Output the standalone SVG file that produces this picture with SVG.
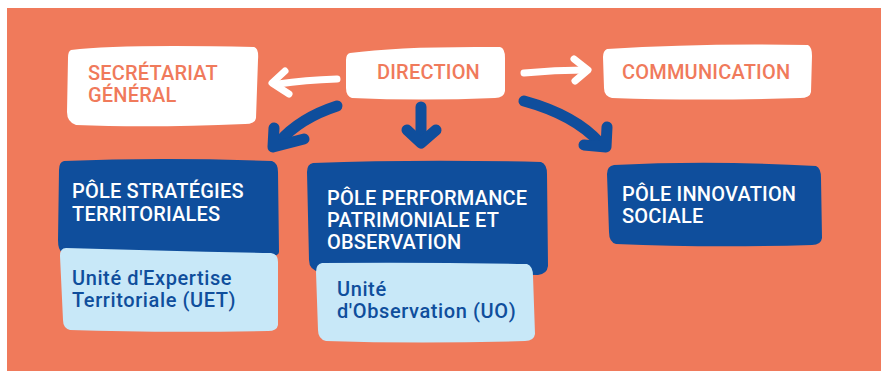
<svg xmlns="http://www.w3.org/2000/svg" width="881" height="371" viewBox="0 0 881 371">
<style>
.t{font-family:Roboto,"Liberation Sans",sans-serif;font-weight:500;font-size:20px}
.o{fill:#F07A5B;letter-spacing:0.2px}
.w{fill:#FFFFFF}
.tw{letter-spacing:0.2px}
.db{fill:#0F4E9C}
.lb{fill:#C8E8F8}
.bt{fill:#0F4E9C;letter-spacing:0.6px}
.wa{fill:none;stroke:#FFFFFF;stroke-width:7;stroke-linecap:round;stroke-linejoin:round}
.ba{fill:none;stroke:#0F4E9C;stroke-width:11;stroke-linecap:round;stroke-linejoin:round}
</style>
<rect x="7" y="8" width="874" height="363" fill="#F07A5B"/>
<g id="connectors">
<path class="wa" d="M337,79 Q305,80 278,84"/>
<path class="wa" d="M285,71 L272,83 L289,94"/>
<path class="wa" d="M524,73 Q555,70 585,70"/>
<path class="wa" d="M574,59 L588,70 L575,81"/>
<path class="ba" d="M337,106 Q300,118 279,142"/>
<path class="ba" d="M274,128 L273,147 L304,139"/>
<path class="ba" d="M421,107 L421,140"/>
<path class="ba" d="M407,130 L421,143 L436,130"/>
<path class="ba" d="M524,101 Q575,115 600,143"/>
<path class="ba" d="M607,127 L606,147 L584,145"/>
</g>
<g id="secretariat">
<path class="w" d="M71,50 Q120,44 254,47 Q259,48 258,60 L256,118 Q255,124 245,124 Q150,128 76,125 Q67,122 67,112 L68,58 Q68,51 71,50 Z"/>
<text class="t o" x="88" y="80">SECRÉTARIAT</text>
<text class="t o" x="88" y="102">GÉNÉRAL</text>
</g>
<g id="direction">
<path class="w" d="M350,53 Q400,46 500,47 Q505,48 505,58 L505,91 Q504,98 495,98 Q420,101 352,98 Q346,96 346,88 L346,60 Q346,54 350,53 Z"/>
<text class="t o" x="377" y="79">DIRECTION</text>
</g>
<g id="communication">
<path class="w" d="M607,49 Q700,43 808,45 Q812,47 812,56 L811,92 Q810,98 800,98 Q700,101 612,98 Q604,96 604,88 L603,57 Q603,51 607,49 Z"/>
<text class="t o" x="622" y="79">COMMUNICATION</text>
</g>
<g id="pole-strategies">
<path class="db" d="M64,161 Q160,157 272,161 Q278,163 278,172 L279,252 Q279,256 270,256 L62,252 Q58,250 58,240 L59,170 Q59,162 64,161 Z"/>
<path class="lb" d="M66,248 Q160,251 271,253 Q278,254 278,262 L278,325 Q277,331 268,331 Q160,333 70,330 Q63,328 63,320 L60,256 Q60,248 66,248 Z"/>
<text class="t w tw" x="72" y="198">PÔLE STRATÉGIES</text>
<text class="t w tw" x="72" y="221">TERRITORIALES</text>
<text class="t bt" x="72" y="285">Unité d'Expertise</text>
<text class="t bt" x="72" y="307">Territoriale (UET)</text>
</g>
<g id="pole-performance">
<path class="db" d="M313,163 Q420,159 541,162 Q547,164 547,174 L548,266 Q547,274 538,275 L320,272 Q309,270 309,260 L307,172 Q307,164 313,163 Z"/>
<path class="lb" d="M322,263 Q420,262 527,264 Q533,266 533,276 L535,334 Q534,341 525,341 Q420,344 326,341 Q318,339 318,330 L316,272 Q316,264 322,263 Z"/>
<text class="t w tw" x="327" y="205">PÔLE PERFORMANCE</text>
<text class="t w tw" x="327" y="227">PATRIMONIALE ET</text>
<text class="t w tw" x="327" y="249">OBSERVATION</text>
<text class="t bt" x="337" y="296">Unité</text>
<text class="t bt" x="337" y="318">d'Observation (UO)</text>
</g>
<g id="pole-innovation">
<path class="db" d="M614,165 Q710,160 816,166 Q821,168 821,178 L822,238 Q821,245 812,245 Q710,248 616,244 Q609,242 609,232 L607,174 Q607,166 614,165 Z"/>
<text class="t w tw" x="622" y="201">PÔLE INNOVATION</text>
<text class="t w tw" x="622" y="223">SOCIALE</text>
</g>
</svg>
